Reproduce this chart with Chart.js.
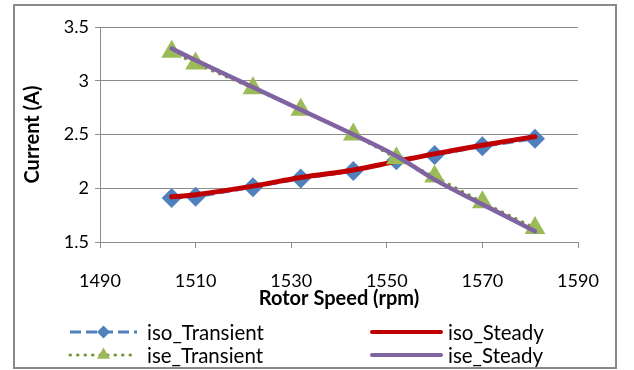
<!DOCTYPE html>
<html>
<head>
<meta charset="utf-8">
<script src="https://cdn.jsdelivr.net/npm/chart.js@4/dist/chart.umd.min.js"></script>
<style>
html,body{margin:0;padding:0;background:#fff;}
#wrap{width:634px;height:370px;position:relative;}
</style>
</head>
<body>
<div id="wrap"><canvas id="c" width="634" height="370"></canvas></div>
<script>
// ---- data ----
const rotorSpeed   = [1505, 1510, 1522, 1532, 1543, 1552, 1560, 1570, 1581];
const isoTransient = [1.91, 1.92, 2.01, 2.09, 2.16, 2.26, 2.31, 2.39, 2.46];
const isoSteady    = [1.92, 1.94, 2.02, 2.10, 2.17, 2.25, 2.32, 2.40, 2.48];
const iseTransient = [3.27, 3.16, 2.93, 2.73, 2.50, 2.28, 2.11, 1.87, 1.63];
const iseSteady    = [3.30, 3.19, 2.94, 2.73, 2.50, 2.30, 2.08, 1.85, 1.60];
const seriesNames  = ['iso_Transient', 'iso_Steady', 'ise_Transient', 'ise_Steady'];
const xTickMin = 1490, xTickMax = 1590, xTickStep = 20;
const yTickMin = 1.5, yTickMax = 3.5, yTickStep = 0.5;
const xTitle = 'Rotor Speed (rpm)';
const yTitle = 'Current (A)';

const FONT = 'Lato';
const pts = ys => rotorSpeed.map((x, i) => ({x: x, y: ys[i]}));
const GRID = '#8c8c8c';

const borderPlugin = {
  id: 'outerBorder',
  afterDraw(chart) {
    const ctx = chart.ctx;
    ctx.save();
    ctx.strokeStyle = '#8a8a8a';
    ctx.lineWidth = 2;
    ctx.strokeRect(14, 5, 602, 363);
    ctx.restore();
  }
};

const legendPlugin = {
  id: 'excelLegend',
  afterDraw(chart) {
    const ctx = chart.ctx;
    const lineStart = [70, 372], lineEnd = [137, 441], textX = [147, 448];
    const rowY = [332, 355];
    chart.data.datasets.forEach((ds, i) => {
      const col = i % 2, row = Math.floor(i / 2);
      const y = rowY[row];
      ctx.save();
      ctx.strokeStyle = ds.borderColor;
      ctx.lineWidth = ds.legendLineWidth || ds.borderWidth;
      ctx.lineCap = ds.borderCapStyle || 'butt';
      ctx.setLineDash(ds.borderDash || []);
      ctx.beginPath();
      ctx.moveTo(lineStart[col], y);
      ctx.lineTo(lineEnd[col], y);
      ctx.stroke();
      ctx.setLineDash([]);
      if (ds.pointRadius > 0) {
        ctx.fillStyle = ds.pointBackgroundColor;
        ctx.strokeStyle = ds.pointBackgroundColor;
        Chart.helpers.drawPoint(ctx, {pointStyle: ds.pointStyle, radius: ds.legendPointRadius, borderWidth: 0, rotation: 0},
          (lineStart[col] + lineEnd[col]) / 2, y);
      }
      ctx.fillStyle = '#000';
      ctx.font = '20.5px ' + FONT;
      ctx.textBaseline = 'middle';
      ctx.textAlign = 'left';
      ctx.fillText(seriesNames[i], textX[col], y + 1);
      ctx.restore();
    });
  }
};

new Chart(document.getElementById('c'), {
  type: 'scatter',
  data: {
    datasets: [
      {
        label: seriesNames[0], data: pts(isoTransient), showLine: true, order: 4,
        borderColor: '#4F81BD', borderWidth: 3, borderDash: [11, 5],
        pointStyle: 'rectRot', pointRadius: 10, legendPointRadius: 6.5,
        pointBackgroundColor: '#4F81BD', pointBorderWidth: 0, pointHoverRadius: 10
      },
      {
        label: seriesNames[1], data: pts(isoSteady), showLine: true, order: 3,
        borderColor: '#C00000', borderWidth: 5, legendLineWidth: 4, tension: 0.4,
        borderCapStyle: 'round', pointRadius: 0, pointHoverRadius: 0
      },
      {
        label: seriesNames[2], data: pts(iseTransient), showLine: true, order: 2,
        borderColor: '#77933C', borderWidth: 3, borderDash: [0.5, 7], borderCapStyle: 'round',
        pointStyle: 'triangle', pointRadius: 12, legendPointRadius: 7.5,
        pointBackgroundColor: '#9BBB59', pointBorderWidth: 0, pointHoverRadius: 12
      },
      {
        label: seriesNames[3], data: pts(iseSteady), showLine: true, order: 1,
        borderColor: '#8064A2', borderWidth: 4.5, legendLineWidth: 4, tension: 0.4,
        borderCapStyle: 'round', pointRadius: 0, pointHoverRadius: 0
      }
    ]
  },
  options: {
    responsive: false,
    animation: false,
    events: [],
    layout: {padding: {left: 0, top: 27, right: 56, bottom: 58}},
    plugins: {legend: {display: false}, tooltip: {enabled: false}},
    scales: {
      x: {
        type: 'linear', min: xTickMin, max: xTickMax,
        afterFit(s) { s.height = 70; },
        ticks: {stepSize: xTickStep, color: '#000', padding: 22, font: {family: FONT, size: 18}, maxRotation: 0,
          callback: v => String(v)},
        grid: {drawOnChartArea: false, drawTicks: true, tickLength: 6, color: GRID, lineWidth: 1},
        border: {display: true, color: GRID, width: 1},
        title: {display: true, text: xTitle, color: '#000', font: {family: FONT, size: 20, weight: 'bold'}, padding: {top: 0, bottom: 1}}
      },
      y: {
        type: 'linear', min: yTickMin, max: yTickMax,
        afterFit(s) { s.width = 100; },
        ticks: {stepSize: yTickStep, color: '#000', padding: 6, font: {family: FONT, size: 18},
          callback: v => String(v)},
        grid: {drawOnChartArea: true, drawTicks: true, tickLength: 5, color: GRID, lineWidth: 1},
        border: {display: true, color: GRID, width: 1},
        title: {display: true, text: yTitle, color: '#000', font: {family: FONT, size: 20, weight: 'bold'}, padding: {top: 21, bottom: 0}}
      }
    }
  },
  plugins: [borderPlugin, legendPlugin]
});
</script>
</body>
</html>
